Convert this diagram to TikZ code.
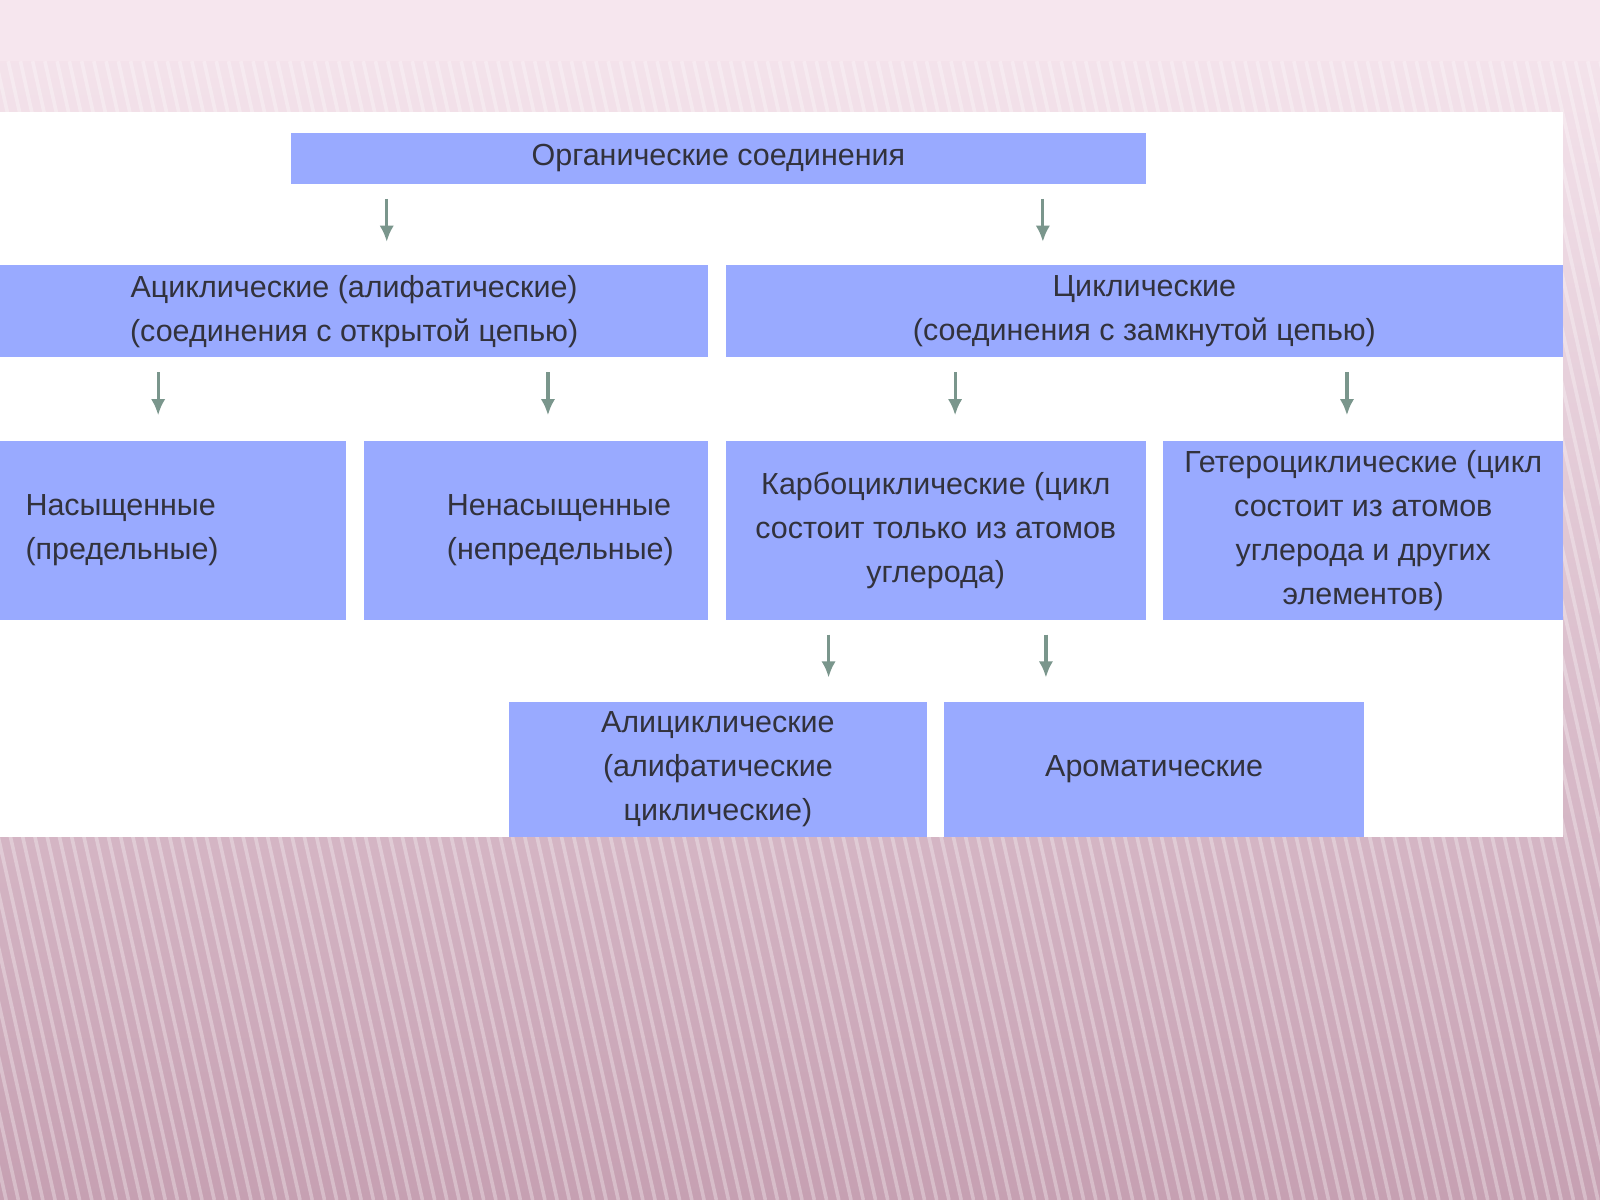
\documentclass[tikz,border=0pt]{standalone}
\usepackage{fontspec}
\setmainfont{Liberation Sans}
\usetikzlibrary{positioning,arrows.meta}
\definecolor{boxblue}{RGB}{153,170,255}
\definecolor{arrgray}{RGB}{122,150,140}
\definecolor{txtgray}{RGB}{50,50,60}
\definecolor{bgtop}{RGB}{246,230,238}
\definecolor{bgbot}{RGB}{198,160,178}
\begin{document}
\begin{tikzpicture}[x=0.02cm,y=-0.02cm]
    \tikzset{
        box/.style={fill=boxblue, draw=none, inner sep=0pt, align=center, text=txtgray,
            font=\fontsize{17}{24.5}\selectfont},
        arr/.style={-{Latex[length=9pt,width=8pt]}, draw=arrgray, line width=1.8pt}
        }
    \useasboundingbox (0,0) rectangle (1568,1176);

    %background
    \shade[top color=bgtop, bottom color=bgbot] (0,0) rectangle (1568,1176);
    \fill[bgtop] (0,0) rectangle (1568,60);
    \begin{scope}
        \clip (0,60) rectangle (1568,1176);
        \foreach \i in {-400,-388,...,1700}
            \draw[white, opacity=0.3, line width=2pt] (\i,60) -- (\i+250,1176);
    \end{scope}

    %panel
    \fill[white] (0,110) rectangle (1532,820);

    %boxes
    \node (org) [box, minimum width=16.76cm, minimum height=1cm] at (704,155) {Органические соединения};
    \node (acyc) [box, minimum width=13.88cm, minimum height=1.8cm] at (347,305) {Ациклические (алифатические)\\(соединения с открытой цепью)};
    \node (cyc) [box, minimum width=16.42cm, minimum height=1.8cm] at (1121.5,305) {Циклические\\(соединения с замкнутой цепью)};

    \node (sat) [box, minimum width=6.78cm, minimum height=3.52cm, text width=5.78cm, align=left] at (169.5,520) {Насыщенные\\(предельные)};
    \node (unsat) [box, minimum width=6.74cm, minimum height=3.52cm, text width=6.74cm, align=left] at (525.5,520) {\hspace*{1.62cm}Ненасыщенные\\\hspace*{1.62cm}(непредельные)};
    \node (carbo) [box, minimum width=8.24cm, minimum height=3.52cm] at (917,520) {Карбоциклические (цикл\\состоит только из атомов\\углерода)};
    \node (hetero) [box, minimum width=7.84cm, minimum height=3.52cm] at (1336,520) {Гетероциклические (цикл\\состоит из атомов\\углерода и других\\элементов)};

    \node (ali) [box, minimum width=8.18cm, minimum height=2.64cm] at (703.5,754) {Алициклические\\(алифатические\\циклические)};
    \node (arom) [box, minimum width=8.24cm, minimum height=2.64cm] at (1131,754) {Ароматические};

    %arrows
    \coordinate (a1) at (379,195);  \coordinate (a2) at (1022,195);
    \coordinate (a3) at (155,365);  \coordinate (a4) at (537,365);
    \coordinate (a5) at (936,365);  \coordinate (a6) at (1320,365);
    \coordinate (a7) at (812,622);  \coordinate (a8) at (1025,622);
    \foreach \a in {a1,a2,a3,a4,a5,a6,a7,a8}
        \draw[arr] (\a) -- ++(0,42);
\end{tikzpicture}
\end{document}
